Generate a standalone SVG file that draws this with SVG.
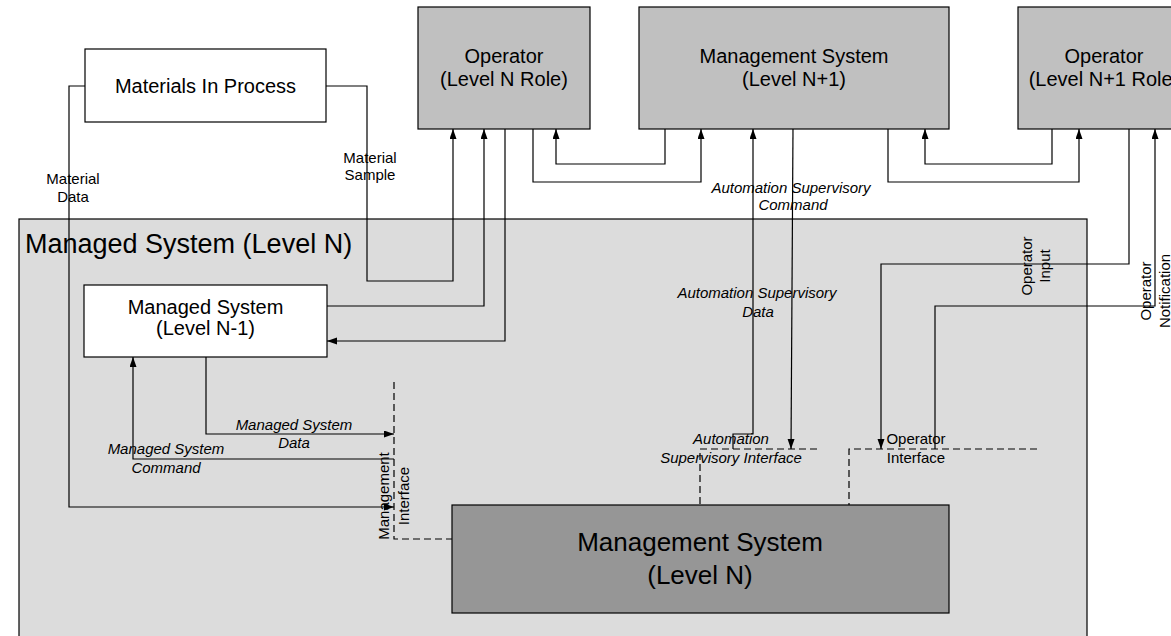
<svg xmlns="http://www.w3.org/2000/svg" width="1171" height="636" viewBox="0 0 1171 636">
<style>
text{font-family:"Liberation Sans",Arial,sans-serif;fill:#000}
.box{stroke:#000;stroke-width:1.2}
.top{fill:#c0c0c0}
.white{fill:#fff}
.dark{fill:#969696}
.cont{fill:#dcdcdc;stroke:#000;stroke-width:1.2}
.t20{font-size:20px;text-anchor:middle}
.t26{font-size:26px;text-anchor:middle}
.lbl{font-size:15px;text-anchor:middle}
.it{font-style:italic}
.ln{fill:none;stroke:#000;stroke-width:1.2}
.arr{marker-end:url(#ah)}
.iface{fill:none;stroke:#000;stroke-width:1.2;stroke-dasharray:7,4}
</style>
<defs>
<marker id="ah" markerUnits="userSpaceOnUse" markerWidth="11" markerHeight="8" refX="10" refY="3.5" orient="auto">
<path d="M0,0 L10,3.5 L0,7 z" fill="#000"/>
</marker>
</defs>

<g id="managed-system-n">
<rect class="cont" x="19" y="219" width="1068" height="430"/>
<text x="25" y="253" style="font-size:27px">Managed System (Level N)</text>
</g>

<g id="materials-in-process">
<rect class="box white" x="85" y="49" width="241" height="73"/>
<text class="t20" x="205.5" y="93">Materials In Process</text>
</g>

<g id="operator-n">
<rect class="box top" x="418" y="7" width="172" height="122"/>
<text class="t20" x="504" y="63">Operator</text>
<text class="t20" x="504" y="86">(Level N Role)</text>
</g>

<g id="management-system-n1">
<rect class="box top" x="639" y="7" width="310" height="122"/>
<text class="t20" x="794" y="63">Management System</text>
<text class="t20" x="794" y="86">(Level N+1)</text>
</g>

<g id="operator-n1">
<rect class="box top" x="1018" y="7" width="172" height="122"/>
<text class="t20" x="1104" y="63">Operator</text>
<text class="t20" x="1104" y="86">(Level N+1 Role)</text>
</g>

<g id="managed-system-n-1">
<rect class="box white" x="84" y="285" width="243" height="72"/>
<text class="t20" x="205.5" y="314">Managed System</text>
<text class="t20" x="205.5" y="335">(Level N-1)</text>
</g>

<g id="management-system-n">
<rect class="box dark" x="452" y="505" width="497" height="108"/>
<text class="t26" x="700" y="551">Management System</text>
<text class="t26" x="700" y="584">(Level N)</text>
</g>

<g id="connectors">
<path class="iface" d="M394,382 V539 H452"/>
<path class="iface" d="M817,449 H700 V505"/>
<path class="iface" d="M1037,449 H849 V505"/>

<path class="ln arr" d="M85,86 H69 V507 H394"/>
<path class="ln arr" d="M326,86 H367 V281 H453 V129"/>
<path class="ln arr" d="M327,306 H484 V129"/>
<path class="ln arr" d="M505,129 V341 H327"/>
<path class="ln arr" d="M533,129 V182 H701 V129"/>
<path class="ln arr" d="M665,129 V164 H556 V129"/>
<path class="ln arr" d="M888,129 V182 H1079 V129"/>
<path class="ln arr" d="M1052,129 V164 H925 V129"/>
<path class="ln arr" d="M733,449 V434 H753 V129"/>
<path class="ln arr" d="M793,129 L791,449"/>
<path class="ln arr" d="M1129,129 V264 H881 V449"/>
<path class="ln arr" d="M935,449 V306 H1155 V129"/>
<path class="ln arr" d="M206,357 V434 H394"/>
<path class="ln arr" d="M394,459 H133 V357"/>

<text class="lbl" x="73" y="184">Material</text>
<text class="lbl" x="73" y="202">Data</text>
<text class="lbl" x="370" y="163">Material</text>
<text class="lbl" x="370" y="180">Sample</text>
<text class="lbl it" x="791" y="193">Automation Supervisory</text>
<text class="lbl it" x="793" y="210">Command</text>
<text class="lbl it" x="757" y="298">Automation Supervisory</text>
<text class="lbl it" x="758" y="317">Data</text>
<text class="lbl it" x="294" y="430">Managed System</text>
<text class="lbl it" x="294" y="448">Data</text>
<text class="lbl it" x="166" y="454">Managed System</text>
<text class="lbl it" x="166" y="473">Command</text>
<text class="lbl it" x="731" y="444">Automation</text>
<text class="lbl it" x="731" y="463">Supervisory Interface</text>
<text class="lbl" x="916" y="444">Operator</text>
<text class="lbl" x="916" y="463">Interface</text>
<g transform="translate(1036,266) rotate(-90)">
<text class="lbl" x="0" y="-4">Operator</text>
<text class="lbl" x="0" y="14">Input</text>
</g>
<g transform="translate(1160,291) rotate(-90)">
<text class="lbl" x="0" y="-9">Operator</text>
<text class="lbl" x="0" y="10">Notification</text>
</g>
<g transform="translate(396,496) rotate(-90)">
<text class="lbl" x="0" y="-7">Management</text>
<text class="lbl" x="0" y="13">Interface</text>
</g>
</g>
</svg>
